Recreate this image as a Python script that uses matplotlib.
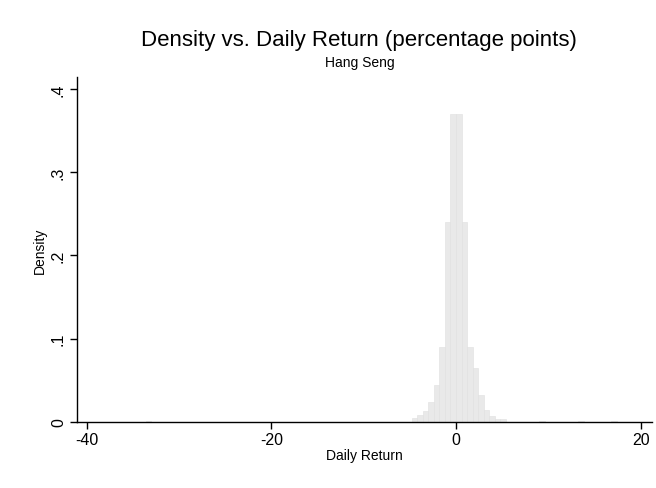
import matplotlib
matplotlib.use("Agg")
import matplotlib.pyplot as plt
from matplotlib.ticker import FixedLocator, FuncFormatter

plt.rcParams['font.family'] = ['Liberation Sans', 'DejaVu Sans']

# Histogram of Hang Seng daily returns (percentage points), bin width 0.6
bin_width = 0.6
bin_left_edges = [-33.6, -4.8, -4.2, -3.6, -3.0, -2.4, -1.8, -1.2, -0.6,
                  0.0, 0.6, 1.2, 1.8, 2.4, 3.0, 3.6, 4.2, 4.8, 9.0, 13.2, 16.8]
densities = [0.0006, 0.005, 0.008, 0.013, 0.024, 0.045, 0.09, 0.24, 0.37,
             0.37, 0.24, 0.09, 0.065, 0.032, 0.014, 0.007, 0.004, 0.003,
             0.0008, 0.0006, 0.0006]

x_ticks = [-40, -20, 0, 20]
y_ticks = [0, 0.1, 0.2, 0.3, 0.4]

title = "Density vs. Daily Return (percentage points)"
subtitle = "Hang Seng"
x_label = "Daily Return"
y_label = "Density"

fig = plt.figure(figsize=(6.56, 4.89), dpi=100)
ax = fig.add_axes([0.1174, 0.135, 0.8766, 0.7055])

ax.bar(bin_left_edges, densities, width=bin_width, align='edge',
       color='#e9e9e9', edgecolor='#e0e0e0', linewidth=0.4)

ax.set_xlim(-41.03, 21.22)
ax.set_ylim(0, 0.4144)

for side in ('top', 'right'):
    ax.spines[side].set_visible(False)
for side in ('left', 'bottom'):
    ax.spines[side].set_color('black')
    ax.spines[side].set_linewidth(1.0)

ax.xaxis.set_major_locator(FixedLocator(x_ticks))
ax.yaxis.set_major_locator(FixedLocator(y_ticks))


def stata_fmt(v, pos):
    if abs(v) < 1e-12:
        return "0"
    s = f"{v:g}"
    return s.replace("0.", ".", 1) if s.startswith("0.") else s


ax.yaxis.set_major_formatter(FuncFormatter(stata_fmt))
ax.xaxis.set_major_formatter(FuncFormatter(lambda v, p: f"{v:g}"))

ax.tick_params(axis='x', direction='out', length=5, width=1.0, labelsize=11.5, pad=2)
ax.tick_params(axis='y', direction='out', length=5, width=1.0, labelsize=11.5, pad=3)
for lab in ax.get_yticklabels():
    lab.set_rotation(90)
    lab.set_va('center')

ax.set_xlabel(x_label, fontsize=10, labelpad=1)
ax.set_ylabel(y_label, fontsize=10, labelpad=3)

fig.text(0.5466, 0.918, title, ha='center', va='center', fontsize=16)
fig.text(0.549, 0.872, subtitle, ha='center', va='center', fontsize=10)

fig.savefig("out.png", dpi=100)
